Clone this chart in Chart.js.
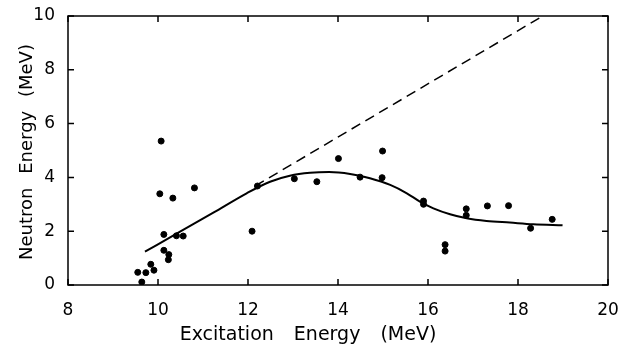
<!DOCTYPE html>
<html>
<head>
<meta charset="utf-8">
<script src="https://cdn.jsdelivr.net/npm/chart.js@4.4.1/dist/chart.umd.min.js"></script>
<style>
  html, body { margin: 0; padding: 0; background: #fff; }
</style>
</head>
<body>
<canvas id="myChart" width="627" height="350"></canvas>
<script>
// measured points (excitation energy, neutron energy)
const pointX = [10.07, 10.04, 10.33, 10.81, 10.13, 10.41, 10.56, 10.13, 10.24, 10.23, 9.84, 9.91, 9.55, 9.73, 9.64,
  12.09, 12.21, 13.03, 13.53, 14.01, 14.49, 14.98, 14.99, 15.9, 15.9, 16.38, 16.38, 16.85, 16.85, 17.32, 17.79, 18.28, 18.76];
const pointY = [5.35, 3.39, 3.23, 3.61, 1.88, 1.83, 1.82, 1.29, 1.13, 0.94, 0.77, 0.55, 0.47, 0.46, 0.11,
  2.0, 3.68, 3.95, 3.84, 4.7, 4.01, 3.99, 4.98, 3.12, 3.0, 1.5, 1.26, 2.83, 2.59, 2.94, 2.95, 2.11, 2.44];

// solid fitted curve
const curveX = [9.71, 10.49, 11.23, 11.97, 12.49, 12.93, 13.38, 13.8, 14.27, 14.71, 15.16, 15.53, 15.82, 16.12, 16.49, 16.86, 17.3, 17.82, 18.34, 18.99];
const curveY = [1.24, 1.98, 2.69, 3.41, 3.84, 4.06, 4.17, 4.2, 4.13, 3.97, 3.72, 3.41, 3.1, 2.85, 2.63, 2.48, 2.38, 2.32, 2.26, 2.22];

// dashed line
const dashX = [12.16, 18.55];
const dashY = [3.68, 10];

const xTicks = [8, 10, 12, 14, 16, 18, 20];
const yTicks = [0, 2, 4, 6, 8, 10];

const toXY = (xs, ys) => xs.map((v, i) => ({ x: v, y: ys[i] }));

const fontFamily = "'DejaVu Sans', sans-serif";

// frame, inward ticks and axis titles
const framePlugin = {
  id: "frame",
  afterDraw(chart) {
    const { ctx, chartArea: a, scales } = chart;
    const x = scales.x, y = scales.y;
    ctx.save();
    ctx.strokeStyle = "#000";
    ctx.lineWidth = 1.5;
    ctx.strokeRect(a.left, a.top, a.right - a.left, a.bottom - a.top);
    ctx.beginPath();
    xTicks.forEach((v) => {
      const px = x.getPixelForValue(v);
      ctx.moveTo(px, a.bottom); ctx.lineTo(px, a.bottom - 6);
      ctx.moveTo(px, a.top); ctx.lineTo(px, a.top + 6);
    });
    yTicks.forEach((v) => {
      const py = y.getPixelForValue(v);
      ctx.moveTo(a.left, py); ctx.lineTo(a.left + 6, py);
      ctx.moveTo(a.right, py); ctx.lineTo(a.right - 6, py);
    });
    ctx.stroke();

    ctx.fillStyle = "#000";
    ctx.textAlign = "center";
    ctx.textBaseline = "alphabetic";
    ctx.font = "19px " + fontFamily;
    ctx.wordSpacing = "14px";
    ctx.fillText("Excitation Energy (MeV)", 308, 340);
    ctx.font = "18px " + fontFamily;
    ctx.wordSpacing = "8px";
    ctx.translate(32, 152);
    ctx.rotate(-Math.PI / 2);
    ctx.fillText("Neutron Energy (MeV)", 0, 0);
    ctx.restore();
  }
};

new Chart("myChart", {
  type: "scatter",
  data: {
    datasets: [
      {
        data: toXY(pointX, pointY),
        backgroundColor: "#000",
        borderColor: "#000",
        pointRadius: 3,
        showLine: false
      },
      {
        data: toXY(curveX, curveY),
        borderColor: "#000",
        borderWidth: 2,
        pointRadius: 0,
        showLine: true,
        cubicInterpolationMode: "monotone"
      },
      {
        data: toXY(dashX, dashY),
        borderColor: "#000",
        borderWidth: 1.5,
        borderDash: [10, 6],
        pointRadius: 0,
        showLine: true
      }
    ]
  },
  options: {
    responsive: false,
    animation: false,
    devicePixelRatio: 1,
    layout: { padding: { top: 16, right: 19, left: 0, bottom: 0 } },
    plugins: {
      legend: { display: false },
      tooltip: { enabled: false }
    },
    scales: {
      x: {
        type: "linear",
        min: 8,
        max: 20,
        border: { display: false },
        grid: { display: false },
        ticks: {
          stepSize: 2,
          color: "#000",
          padding: 7,
          maxRotation: 0,
          font: { family: fontFamily, size: 17 }
        },
        afterFit(scale) { scale.height = 65; }
      },
      y: {
        type: "linear",
        min: 0,
        max: 10,
        border: { display: false },
        grid: { display: false },
        ticks: {
          stepSize: 2,
          color: "#000",
          padding: 5,
          font: { family: fontFamily, size: 17 }
        },
        afterFit(scale) { scale.width = 68; }
      }
    }
  },
  plugins: [framePlugin]
});
</script>
</body>
</html>
